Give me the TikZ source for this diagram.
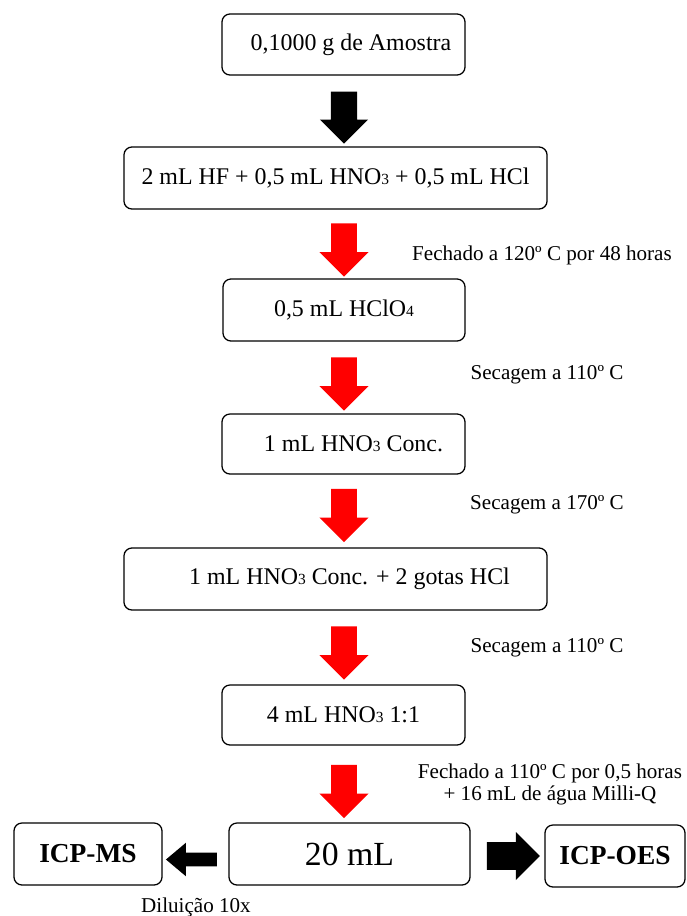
\documentclass[tikz,border=0pt]{standalone}
\usepackage{fontspec}
\setmainfont{Liberation Serif}
\usetikzlibrary{shapes.arrows}
\newcommand{\ind}[1]{{\fontsize{11pt}{11pt}\selectfont #1}}
\tikzset{
  caixa/.style={draw, line width=0.9pt, rounded corners=0.2cm, minimum height=1.55cm,
    font=\fontsize{17pt}{20pt}\selectfont},
  seta/.style={single arrow, draw=none, fill=red, rotate=-90, inner xsep=0pt,
    inner ysep=0.275cm, minimum height=1.325cm, minimum width=1.225cm},
  nota/.style={font=\fontsize{15pt}{18pt}\selectfont}
}
\begin{document}
\begin{tikzpicture}[x=0.025cm, y=-0.025cm]
\useasboundingbox (0,0) rectangle (686,916);

% Caixas
\node[caixa, minimum width=6.075cm, minimum height=1.525cm] (amostra) at (343.5,44.5) {\hspace*{0.375cm}0,1000 g de Amostra};
\node[caixa, minimum width=10.575cm] (ataque) at (335.5,178) {2 mL HF + 0,5 mL HNO\ind{3} + 0,5 mL HCl};
\node[caixa, minimum width=6.05cm] (perc) at (344,310) {0,5 mL HClO\ind{4}};
\node[caixa, minimum width=6.075cm, minimum height=1.5cm] (nitr) at (343.5,444) {\hspace*{0.5cm}1 mL HNO\ind{3} Conc.};
\node[caixa, minimum width=10.575cm] (nitrcl) at (335.5,579) {\hspace*{0.7cm}1 mL HNO\ind{3} Conc. + 2 gotas HCl};
\node[caixa, minimum width=6.075cm, minimum height=1.5cm] (dil) at (343.5,715) {4 mL HNO\ind{3} 1:1};
\node[caixa, minimum width=6.025cm, font=\fontsize{24pt}{28pt}\selectfont] (final) at (349.5,854) {20 mL};
\node[caixa, minimum width=3.7cm, font=\bfseries\fontsize{19.5pt}{22pt}\selectfont] (icpms) at (88,854) {ICP-MS};
\node[caixa, minimum width=3.5cm, font=\bfseries\fontsize{19.5pt}{22pt}\selectfont] (icpoes) at (615,856) {ICP-OES};

% Setas
\node[seta, fill=black, inner ysep=0.3cm, minimum height=1.3cm, minimum width=1.2cm] (s1) at (344,111) {};
\node[seta] (s2) at (344,243.5) {};
\node[seta] (s3) at (344,377.5) {};
\node[seta] (s4) at (344,509) {};
\node[seta] (s5) at (344,646.5) {};
\node[seta] (s6) at (344,785) {};
\node[seta, fill=black, rotate=270, inner ysep=0.1625cm, minimum height=1.275cm,
  minimum width=0.625cm, single arrow tip angle=80] (sms) at (195.5,859.5) {};
\node[seta, fill=black, rotate=90, inner ysep=0.3375cm, minimum height=1.325cm,
  minimum width=1.2cm] (soes) at (506.5,856) {};

% Condicoes
\node[nota] (c2) at (542,255) {Fechado a 120º C por 48 horas};
\node[nota] (c3) at (547,375) {Secagem a 110º C};
\node[nota] (c4) at (547,505) {Secagem a 170º C};
\node[nota] (c5) at (547,648) {Secagem a 110º C};
\node[nota, align=center] (c6) at (550,784.5) {Fechado a 110º C por 0,5 horas\\[-2pt] + 16 mL de água Milli-Q};
\node[nota] (cms) at (196,907) {Diluição 10x};
\end{tikzpicture}
\end{document}
